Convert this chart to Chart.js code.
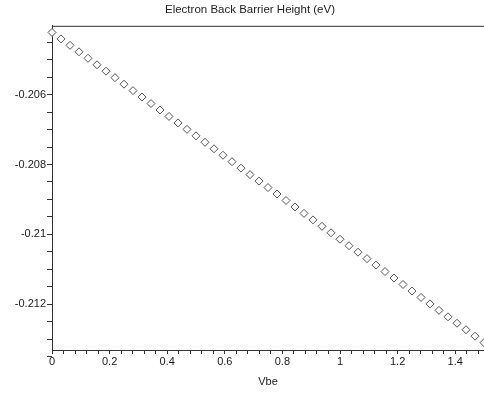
<!DOCTYPE html>
<html>
<head>
<meta charset="utf-8">
<script src="https://cdn.jsdelivr.net/npm/chart.js@4"></script>
<style>
  body { margin: 0; background: #fff; }
  #wrap { width: 484px; height: 397px; position: relative; }
</style>
</head>
<body>
<div id="wrap"><canvas id="barrierChart"></canvas></div>
<script>
// Vbe sweep (x) and electron back barrier height in eV (y)
const vbe = [0, 0.03125, 0.0625, 0.09375, 0.125, 0.15625, 0.1875, 0.21875, 0.25, 0.28125,
    0.3125, 0.34375, 0.375, 0.40625, 0.4375, 0.46875, 0.5, 0.53125, 0.5625, 0.59375,
    0.625, 0.65625, 0.6875, 0.71875, 0.75, 0.78125, 0.8125, 0.84375, 0.875, 0.90625,
    0.9375, 0.96875, 1, 1.03125, 1.0625, 1.09375, 1.125, 1.15625, 1.1875, 1.21875,
    1.25, 1.28125, 1.3125, 1.34375, 1.375, 1.40625, 1.4375, 1.46875, 1.5];
const barrier = [-0.20422, -0.204405, -0.20459, -0.204775, -0.20496, -0.205145, -0.20533, -0.205515, -0.2057, -0.205885,
    -0.20607, -0.206255, -0.20644, -0.206625, -0.20681, -0.206995, -0.20718, -0.207365, -0.20755, -0.207735,
    -0.20792, -0.208105, -0.20829, -0.208475, -0.20866, -0.208845, -0.20903, -0.209215, -0.2094, -0.209585,
    -0.20977, -0.209955, -0.21014, -0.210325, -0.21051, -0.210695, -0.21088, -0.211065, -0.21125, -0.211435,
    -0.21162, -0.211805, -0.21199, -0.212175, -0.21236, -0.212545, -0.21273, -0.212915, -0.2131];

const xTicks = [0, 0.2, 0.4, 0.6, 0.8, 1, 1.2, 1.4];
const xTickLabels = ["0", "0.2", "0.4", "0.6", "0.8", "1", "1.2", "1.4"];
const yTicks = [-0.206, -0.208, -0.21, -0.212];
const yTickLabels = ["-0.206", "-0.208", "-0.21", "-0.212"];

const axisColor = "#333";
const textColor = "#222";
const font = { family: "'Liberation Sans', Arial, sans-serif", size: 11 };

function labelFor(v, ticks, labels) {
    for (let i = 0; i < ticks.length; i++) {
        if (Math.abs(v - ticks[i]) < 1e-7) return labels[i];
    }
    return "";
}

// top frame line (the original has one but no right edge),
// and nudge the title a bit right like the original
const frame = {
    id: "frame",
    afterLayout(chart) {
        if (chart.titleBlock) chart.titleBlock.left = 16;
    },
    afterDraw(chart) {
        const a = chart.chartArea;
        const c = chart.ctx;
        c.save();
        c.strokeStyle = axisColor;
        c.lineWidth = 1;
        c.beginPath();
        c.moveTo(a.left, a.top + 0.5);
        c.lineTo(a.right, a.top + 0.5);
        c.stroke();
        c.restore();
    },
};

const points = vbe.map((x, i) => ({ x: x, y: barrier[i] }));

new Chart(document.getElementById("barrierChart").getContext("2d"), {
    type: "scatter",
    data: {
        datasets: [
            {
                data: points,
                pointStyle: "rectRot",
                pointRadius: 4,
                pointBorderWidth: 1,
                pointBorderColor: "#555",
                pointBackgroundColor: "#fff",
                clip: false,
            },
        ],
    },
    options: {
        responsive: true,
        maintainAspectRatio: false,
        animation: false,
        layout: { padding: 0, autoPadding: false },
        plugins: {
            legend: { display: false },
            tooltip: { enabled: false },
            title: {
                display: true,
                text: "Electron Back Barrier Height (eV)",
                color: textColor,
                font: { ...font, size: 11.5, weight: "normal" },
                padding: { top: 3, bottom: 9 },
            },
        },
        scales: {
            x: {
                type: "linear",
                min: 0,
                max: 1.5,
                afterFit(s) {
                    s.height = 47;
                    s.paddingLeft = 0;
                    s.paddingRight = 0;
                },
                afterBuildTicks(s) {
                    const t = [];
                    for (let v = 0; v < 1.5; v += 0.04) t.push({ value: Math.round(v * 100) / 100 });
                    s.ticks = t;
                },
                ticks: {
                    autoSkip: false,
                    maxRotation: 0,
                    padding: 1,
                    color: textColor,
                    font: font,
                    callback: (v) => labelFor(v, xTicks, xTickLabels),
                },
                grid: { drawOnChartArea: false, tickLength: 4, color: axisColor },
                border: { color: axisColor },
                title: {
                    display: true,
                    text: "Vbe",
                    color: textColor,
                    font: font,
                    padding: { top: 8, bottom: 8 },
                },
            },
            y: {
                type: "linear",
                min: -0.21331,
                max: -0.20403,
                afterFit(s) {
                    s.width = 52;
                    s.paddingTop = 0;
                    s.paddingBottom = 0;
                },
                afterBuildTicks(s) {
                    const t = [];
                    for (let k = -427; k <= -409; k++) t.push({ value: k * 0.0005 });
                    s.ticks = t;
                },
                ticks: {
                    autoSkip: false,
                    padding: 1,
                    color: textColor,
                    font: font,
                    callback: (v) => labelFor(v, yTicks, yTickLabels),
                },
                grid: { drawOnChartArea: false, tickLength: 5, color: axisColor },
                border: { color: axisColor },
            },
        },
    },
    plugins: [frame],
});
</script>
</body>
</html>
